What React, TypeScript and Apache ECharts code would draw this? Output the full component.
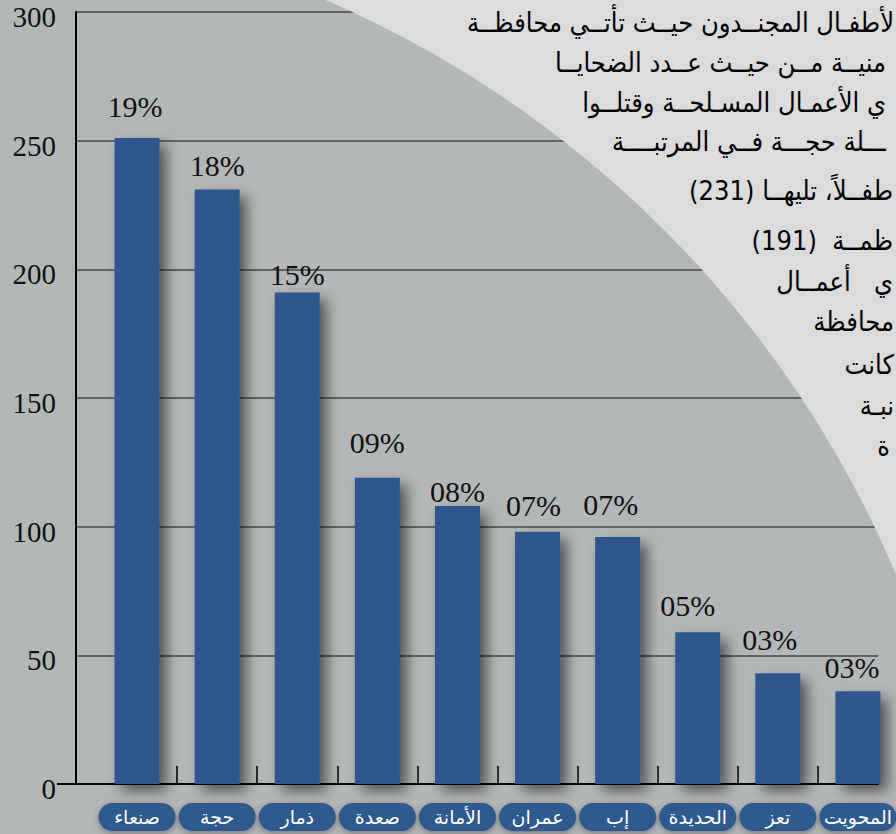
import React, { useEffect, useRef } from "react";
import * as echarts from "echarts";

// ---- data ----
const categories = ["صنعاء", "حجة", "ذمار", "صعدة", "الأمانة", "عمران", "إب", "الحديدة", "تعز", "المحويت"];
const values = [251, 231, 191, 119, 108, 98, 96, 59, 43, 36];
const shares = ["19%", "18%", "15%", "09%", "08%", "07%", "07%", "05%", "03%", "03%"];
const yTicks = [0, 50, 100, 150, 200, 250, 300];
const noteLines = [
  "لأطفـال المجنــدون حيــث تأتــي محافظــة",
  "منيــة مــن حيــث عــدد الضحايــا",
  "ي الأعمـال المسـلحــة وقتلــوا",
  "ـــلة حجـــة فــي المرتبــــة",
  "طفــلاً، تليهــا (231)",
  "ظمــة  (191)",
  "ي   أعمــال",
  "محافظة",
  "كانت",
  "نبـة",
  "ة",
];

// ---- layout ----
const W = 896;
const H = 834;
const GRID_TOP = 12;
const GRID_BOTTOM = 50;
const noteY = [22, 62, 102, 141, 190, 240, 281, 321, 364, 405, 445];
const noteRight = [894, 886, 886, 886, 893, 893, 893, 894, 894, 894, 890];
const labelShift: [number, number][] = [
  [-2, -2], [0, 6], [0, 12], [0, -5], [0, 15], [-4, 4], [-7, -2], [-10, 3], [-8, -4], [-6, 6],
];

export default function App() {
  const ref = useRef<HTMLDivElement>(null);
  useEffect(() => {
    document.body.style.margin = "0";
    if (!ref.current) return;
    const chart = echarts.init(ref.current, undefined, { renderer: "svg" });
    const baseY = H - GRID_BOTTOM;
    const graphic: any[] = [
      {
        type: "ring",
        z: 1,
        silent: true,
        shape: { cx: -105, cy: 998, r0: 1087, r: 2600 },
        style: { fill: "#dcdcdc" },
      },
      {
        type: "line",
        z: 1,
        shape: { x1: 57, y1: baseY, x2: 77, y2: baseY },
        style: { stroke: "#000", lineWidth: 2 },
      },
      ...noteLines.map((t, i) => ({
        type: "text",
        z: 3,
        x: noteRight[i],
        y: noteY[i],
        style: {
          text: t,
          fill: "#000",
          font: "27px 'DejaVu Sans Condensed', 'DejaVu Sans'",
          textAlign: "right",
          textVerticalAlign: "middle",
        },
      })),
    ];
    chart.setOption({
      animation: false,
      backgroundColor: "#b4b7b8",
      graphic,
      grid: [
        { left: 97, right: -2, top: GRID_TOP, bottom: GRID_BOTTOM, outerBoundsMode: "none" },
        { left: 76, right: 18, top: GRID_TOP, bottom: GRID_BOTTOM, outerBoundsMode: "none" },
      ],
      xAxis: [
        {
          gridIndex: 0,
          type: "category",
          data: categories,
          axisLine: { show: false },
          axisTick: {
            show: true,
            inside: true,
            length: 18,
            interval: (index: number) => index !== 0,
            lineStyle: { color: "#000", width: 1.5 },
          },
          axisLabel: {
            interval: 0,
            margin: 19,
            color: "#ffffff",
            fontFamily: "'DejaVu Sans'",
            fontSize: 19,
            backgroundColor: "#2e5a8e",
            borderRadius: 14,
            width: 77,
            height: 28,
            lineHeight: 28,
            align: "center",
            verticalAlign: "top",
            shadowBlur: 6,
            shadowColor: "rgba(0,0,0,0.35)",
            shadowOffsetY: 2,
          },
          splitLine: { show: false },
        },
        {
          gridIndex: 1,
          type: "value",
          min: 0,
          max: 1,
          axisLine: { show: true, onZero: false, lineStyle: { color: "#000", width: 2 } },
          axisTick: { show: false },
          axisLabel: { show: false },
          splitLine: { show: false },
        },
      ],
      yAxis: [
        {
          gridIndex: 0,
          type: "value",
          min: yTicks[0],
          max: yTicks[yTicks.length - 1],
          interval: yTicks[1] - yTicks[0],
          show: false,
        },
        {
          gridIndex: 1,
          type: "value",
          min: yTicks[0],
          max: yTicks[yTicks.length - 1],
          interval: yTicks[1] - yTicks[0],
          axisLine: { show: true, lineStyle: { color: "#000", width: 2 } },
          axisTick: { show: false },
          axisLabel: {
            color: "#111",
            fontFamily: "'Liberation Serif'",
            fontSize: 29,
            margin: 20,
            verticalAlign: "top",
            lineHeight: 10,
          },
          splitLine: { show: true, lineStyle: { color: "#474747", width: 1.5 } },
        },
      ],
      series: [
        {
          type: "bar",
          xAxisIndex: 0,
          yAxisIndex: 0,
          data: values.map((v, i) => ({
            value: v,
            label: { offset: labelShift[i] },
          })),
          barWidth: 45,
          z: 2,
          itemStyle: {
            color: "#2d568b",
            shadowBlur: 14,
            shadowColor: "rgba(0,0,0,0.55)",
            shadowOffsetX: 7,
            shadowOffsetY: 7,
          },
          label: {
            show: true,
            position: "top",
            distance: 15,
            formatter: (p: any) => shares[p.dataIndex],
            fontFamily: "'Liberation Serif'",
            fontSize: 30,
            color: "#111",
          },
        },
      ],
    });
    return () => chart.dispose();
  }, []);
  return <div ref={ref} style={{ width: W, height: H }} />;
}
